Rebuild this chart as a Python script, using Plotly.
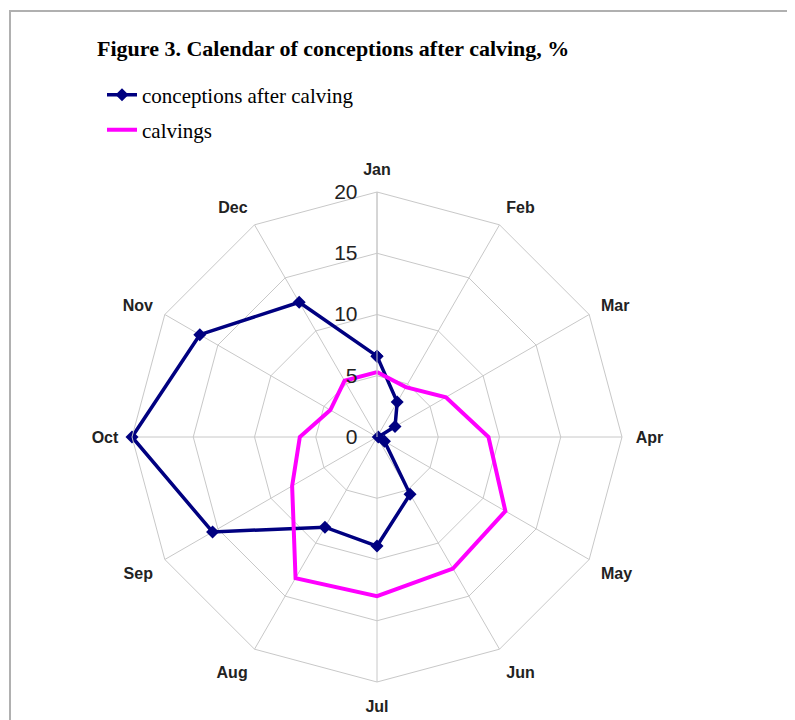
import plotly.graph_objects as go

months = ["Jan", "Feb", "Mar", "Apr", "May", "Jun", "Jul", "Aug", "Sep", "Oct", "Nov", "Dec"]
conceptions = [6.6, 3.3, 1.7, 0.1, 0.7, 5.4, 8.9, 8.5, 15.5, 20.0, 16.7, 12.7]
calvings = [5.3, 4.7, 6.5, 9.1, 12.1, 12.4, 13.0, 13.3, 8.0, 6.3, 4.4, 5.3]
r_ticks = [0, 5, 10, 15, 20]

navy = "#000080"
magenta = "#ff00ff"
grid = "#c8c8c8"

# page body adds ~8px offset, so shift everything by that
OFF = 8
W, H = 795, 720
cx, cy, R = 377 - OFF, 437 - OFF, 245

fig = go.Figure()
fig.add_trace(go.Scatterpolar(
    r=conceptions + conceptions[:1], theta=months + months[:1],
    mode="lines+markers", name="conceptions after calving",
    line=dict(color=navy, width=3.5),
    marker=dict(symbol="diamond", size=10, color=navy),
    legend="legend", showlegend=True,
))
fig.add_trace(go.Scatterpolar(
    r=calvings + calvings[:1], theta=months + months[:1],
    mode="lines", name="calvings",
    line=dict(color=magenta, width=4),
    legend="legend2", showlegend=True,
))

serif = "Liberation Serif, Times New Roman, serif"
sans = "Liberation Sans, Arial, sans-serif"
legend_font = dict(family=serif, size=21, color="black")

fig.update_layout(
    width=W, height=H,
    margin=dict(l=0, r=0, t=0, b=0),
    paper_bgcolor="white",
    title=dict(text="<b>Figure 3. Calendar of conceptions after calving, %</b>",
               x=(97 - OFF) / W, xanchor="left", y=1 - (48 - OFF) / H, yanchor="middle",
               font=dict(family=serif, size=22, color="black")),
    legend=dict(x=94 / W, y=1 - (95 - OFF) / H, xanchor="left", yanchor="middle",
                font=legend_font, bgcolor="rgba(0,0,0,0)"),
    legend2=dict(x=94 / W, y=1 - (130 - OFF) / H, xanchor="left", yanchor="middle",
                 font=legend_font, bgcolor="rgba(0,0,0,0)"),
    polar=dict(
        domain=dict(x=[(cx - R) / W, (cx + R) / W],
                    y=[1 - (cy + R) / H, 1 - (cy - R) / H]),
        gridshape="linear",
        bgcolor="white",
        angularaxis=dict(
            direction="clockwise", rotation=90,
            categoryorder="array", categoryarray=months,
            showline=True, linecolor=grid, linewidth=1,
            gridcolor=grid, gridwidth=1,
            ticks="outside", ticklen=10, tickcolor="rgba(0,0,0,0)",
            tickfont=dict(family=sans, size=16, color="#222", weight="bold"),
        ),
        radialaxis=dict(
            range=[0, 20], tickvals=r_ticks,
            ticktext=[f"{v}\u00a0\u00a0" for v in r_ticks],
            angle=90, tickangle=90, side="counterclockwise",
            showline=True, linecolor=grid, linewidth=1,
            gridcolor=grid, gridwidth=1, ticks="",
            tickfont=dict(family=sans, size=21, color="#222"),
        ),
    ),
    shapes=[dict(type="rect", xref="paper", yref="paper",
                 x0=(10 - OFF) / W, x1=1.01, y0=-0.01, y1=1 - (11 - OFF) / H,
                 line=dict(color="#b0b0b0", width=2), fillcolor="rgba(0,0,0,0)")],
)

fig.write_html("out.html")
